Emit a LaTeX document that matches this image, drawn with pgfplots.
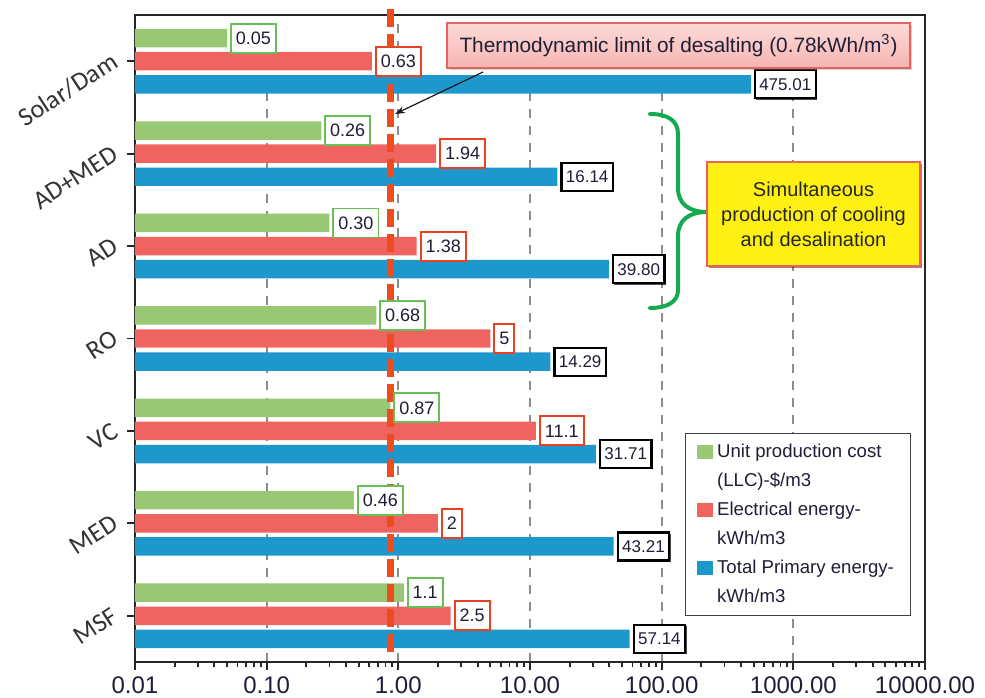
\documentclass[border=0pt]{standalone}
\usepackage{pgfplots}
\pgfplotsset{compat=1.18}
\usepackage{fontspec}
\setmainfont{Liberation Sans}
\newfontfamily\calfont{Carlito}
\usetikzlibrary{shadows,arrows.meta}
\definecolor{bgreen}{RGB}{152,200,115}
\definecolor{bred}{RGB}{240,100,95}
\definecolor{bblue}{RGB}{30,152,204}
\definecolor{lgreen}{RGB}{105,190,85}
\definecolor{lred}{RGB}{235,65,35}
\definecolor{dline}{RGB}{236,76,30}
\definecolor{txt}{RGB}{30,30,55}
\definecolor{bracec}{RGB}{20,170,80}
\definecolor{yel}{RGB}{255,240,20}
\definecolor{pinkb}{RGB}{230,100,95}
\definecolor{pinkt}{RGB}{252,218,215}
\definecolor{pinkd}{RGB}{246,180,178}
\begin{document}
\begin{tikzpicture}
\begin{axis}[
  scale only axis, width=395pt, height=323.5pt,
  clip=false,
  xmode=log, xmin=0.01, xmax=10000, log origin x=infty,
  ymin=-0.5, ymax=6.5,
  xbar, bar width=0.2, bar shift=0pt,
  xtick={0.01,0.1,1,10,100,1000,10000},
  xticklabels={0.01,0.10,1.00,10.00,100.00,1000.00,10000.00},
  minor xtick={0.02,0.03,0.04,0.05,0.06,0.07,0.08,0.09,0.2,0.3,0.4,0.5,0.6,0.7,0.8,0.9,2,3,4,5,6,7,8,9,20,30,40,50,60,70,80,90,200,300,400,500,600,700,800,900,2000,3000,4000,5000,6000,7000,8000,9000},
  ytick={0,1,2,3,4,5,6},
  yticklabels={MSF,MED,VC,RO,AD,AD+MED,Solar/Dam},
  tick align=outside, tick pos=left,
  major tick length=4pt, minor tick length=2.5pt,
  tick style={line width=0.9pt, color=black!85},
  axis line style={line width=1.2pt, color=black!85},
  xmajorgrids,
  major grid style={dash pattern=on 4.5pt off 4pt, line width=0.9pt, color=black!45},
  xticklabel style={font=\fontsize{12}{14}\selectfont, text=txt},
  yticklabel shift=3pt,
  yticklabel style={font=\calfont\fontsize{13}{15}\selectfont, text=black!80, yshift=3pt, rotate=33, anchor=east},
  legend style={at={(0.9823,0.354)}, anchor=north east, draw=black!75, line width=0.6pt,
    font=\fontsize{9.3}{11}\selectfont, text=txt, row sep=0pt, inner xsep=6pt, inner ysep=2pt,
    nodes={inner xsep=2.25pt, inner ysep=2.25pt, text height=7.5pt, text depth=2.5pt}},
  legend cell align=left,
]
% Unit production cost (green)
\addplot[fill=bgreen, draw=none, forget plot, point meta=explicit symbolic,
  nodes near coords,
  nodes near coords style={anchor=west, draw=lgreen, line width=0.9pt, fill=white, inner xsep=2.5pt, inner ysep=0pt, minimum height=14.5pt, xshift=1.5pt, font=\fontsize{9}{10}\selectfont, text=txt}]
  coordinates {(1.1,0.25)[1.1] (0.46,1.25)[0.46] (0.87,2.25)[0.87] (0.68,3.25)[0.68] (0.30,4.25)[0.30] (0.26,5.25)[0.26] (0.05,6.25)[0.05]};
% Electrical energy (red)
\addplot[fill=bred, draw=none, forget plot, point meta=explicit symbolic,
  nodes near coords,
  nodes near coords style={anchor=west, draw=lred, line width=1pt, fill=white, inner xsep=2.5pt, inner ysep=0pt, minimum height=14.5pt, xshift=1.5pt, font=\fontsize{9}{10}\selectfont, text=txt}]
  coordinates {(2.5,0)[2.5] (2,1)[2] (11.1,2)[11.1] (5,3)[5] (1.38,4)[1.38] (1.94,5)[1.94] (0.63,6)[0.63]};
% Total primary energy (blue)
\addplot[fill=bblue, draw=none, forget plot, point meta=explicit symbolic,
  nodes near coords,
  nodes near coords style={anchor=west, draw=black, line width=1.1pt, fill=white, inner xsep=2.2pt, inner ysep=0pt, minimum height=14pt, xshift=1.5pt, font=\fontsize{8.5}{10}\selectfont, text=txt,
    drop shadow={shadow xshift=0.7pt, shadow yshift=-0.7pt, opacity=0.7, fill=black}}]
  coordinates {(57.14,-0.25)[57.14] (43.21,0.75)[43.21] (31.71,1.75)[31.71] (14.29,2.75)[14.29] (39.80,3.75)[39.80] (16.14,4.75)[16.14] (475.01,5.75)[475.01]};
% thermodynamic limit line
\addplot[sharp plot, no markers, dline, line width=3.5pt, dash pattern=on 9pt off 3.5pt, forget plot]
  coordinates {(0.875,6.56) (0.875,-0.45)};
\addlegendimage{legend image code/.code={\fill[bgreen] (0pt,-3pt) rectangle (7pt,3pt);}}
\addlegendentry{Unit production cost}
\addlegendimage{empty legend}
\addlegendentry{(LLC)-\$/m3}
\addlegendimage{legend image code/.code={\fill[bred] (0pt,-3pt) rectangle (7pt,3pt);}}
\addlegendentry{Electrical energy-}
\addlegendimage{empty legend}
\addlegendentry{kWh/m3}
\addlegendimage{legend image code/.code={\fill[bblue] (0pt,-3pt) rectangle (7pt,3pt);}}
\addlegendentry{Total Primary energy-}
\addlegendimage{empty legend}
\addlegendentry{kWh/m3}
\end{axis}
% annotations
\node[draw=pinkb, line width=0.7pt, top color=pinkt, bottom color=pinkd,
  drop shadow={shadow xshift=1.2pt, shadow yshift=-1.2pt, opacity=0.35},
  minimum width=231.5pt, minimum height=22.5pt, inner sep=0pt,
  font=\fontsize{10.4}{12}\selectfont, text=txt] at (271.75pt,308.25pt)
  {Thermodynamic limit of desalting (0.78kWh/m\textsuperscript{3})};
\draw[-{Stealth[length=5pt,width=3.5pt]}, line width=0.6pt, black!90] (174pt,295pt) -- (130pt,274pt);
\draw[bracec, line width=2pt, line cap=round]
  (257.5pt,274pt) .. controls (266pt,274pt) and (271.5pt,271pt) .. (271.5pt,264pt)
  -- (271.5pt,237pt) .. controls (271.5pt,229pt) and (277pt,225pt) .. (286pt,225pt)
  .. controls (277pt,225pt) and (271.5pt,221pt) .. (271.5pt,213pt)
  -- (271.5pt,186pt) .. controls (271.5pt,180pt) and (266pt,177pt) .. (257.5pt,177pt);
\node[draw=pinkb, line width=0.6pt, fill=yel,
  drop shadow={shadow xshift=1.2pt, shadow yshift=-1.2pt, opacity=0.5, fill=black!70!red},
  minimum width=106.5pt, minimum height=52pt, inner sep=0pt, align=center,
  font=\fontsize{10}{12.5}\selectfont, text=black!85] at (339.25pt,224pt)
  {Simultaneous\\production of cooling\\and desalination};
\pgfresetboundingbox
\useasboundingbox (-67.5pt,-17.5pt) rectangle (425pt,331pt);
\end{tikzpicture}
\end{document}
